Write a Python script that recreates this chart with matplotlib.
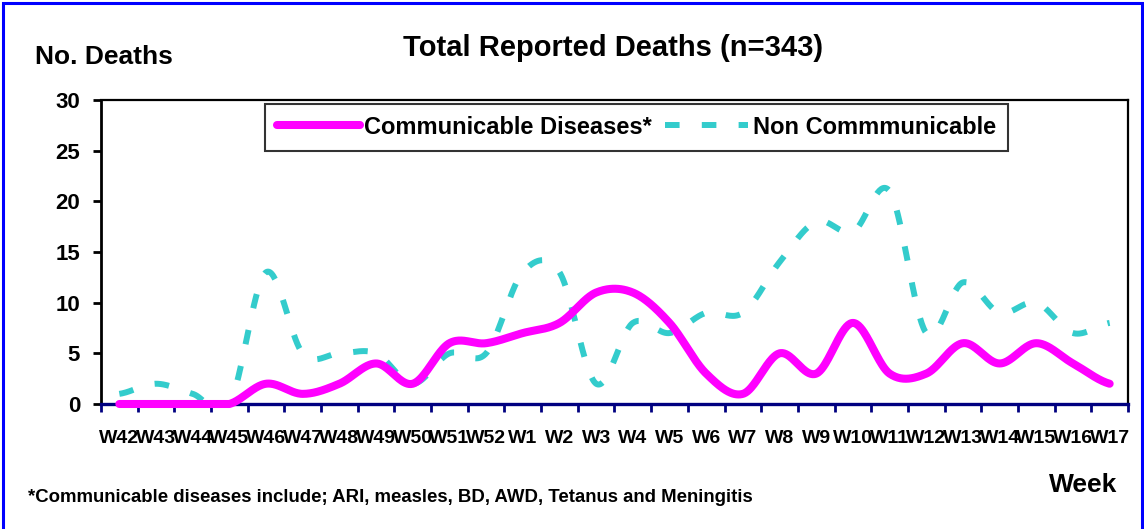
import matplotlib
matplotlib.use("Agg")
import matplotlib.pyplot as plt
from matplotlib.patches import Rectangle
import numpy as np

# ---------- data ----------
weeks = ["W42", "W43", "W44", "W45", "W46", "W47", "W48", "W49", "W50", "W51", "W52",
         "W1", "W2", "W3", "W4", "W5", "W6", "W7", "W8", "W9", "W10",
         "W11", "W12", "W13", "W14", "W15", "W16", "W17"]
communicable = [0, 0, 0, 0, 2, 1, 2, 4, 2, 6, 6,
                7, 8, 11, 11, 8, 3, 1, 5, 3, 8,
                3, 3, 6, 4, 6, 4, 2]
non_communicable = [1, 2, 1, 0, 13, 5, 5, 5, 2, 5, 5,
                    13, 13, 2, 8, 7, 9, 9, 14, 18, 17,
                    21, 7, 12, 9, 10, 7, 8]

PINK = "#FF00FF"
CYAN = "#33CCCC"
NAVY = "#000080"
FONT = "Liberation Sans"

plt.rcParams["font.family"] = [FONT, "DejaVu Sans"]
plt.rcParams["font.weight"] = "bold"
plt.rcParams["lines.scale_dashes"] = False


# ---------- smoothed line like the spreadsheet "smoothed line" option ----------
def smooth(values, n=40):
    p = np.asarray(values, dtype=float)
    ext = np.concatenate([[p[0]], p, [p[-1]]])
    xs, ys = [], []
    t = np.linspace(0, 1, n, endpoint=False)
    h00 = 2 * t**3 - 3 * t**2 + 1
    h10 = t**3 - 2 * t**2 + t
    h01 = -2 * t**3 + 3 * t**2
    h11 = t**3 - t**2
    for i in range(len(p) - 1):
        p0, p1, p2, p3 = ext[i:i + 4]
        m1 = (p2 - p0) / 2
        m2 = (p3 - p1) / 2
        ys.append(h00 * p1 + h10 * m1 + h01 * p2 + h11 * m2)
        xs.append(i + t)
    xs.append([len(p) - 1])
    ys.append([p[-1]])
    return np.concatenate(xs), np.concatenate(ys)


fig = plt.figure(figsize=(11.44, 5.29), dpi=100)
ax = fig.add_axes([101 / 1144, 125 / 529, 1027 / 1144, 304 / 529])

x = np.arange(len(weeks))
xc, yc = smooth(communicable)
xn, yn = smooth(non_communicable)

ax.plot(xn, yn, color=CYAN, lw=4.3, linestyle=(0, (10.5, 16)),
        dash_capstyle="butt", clip_on=True, zorder=4,
        label="Non Commmunicable")
ax.plot(xc, np.maximum(yc, 0), color=PINK, lw=5.8, solid_capstyle="round",
        clip_on=False, zorder=5, label="Communicable Diseases*")

ax.set_xlim(-0.5, len(weeks) - 0.5)
ax.set_ylim(0, 30)
ax.set_yticks(np.arange(0, 31, 5))

# ticks between categories, labels at the centres
ax.set_xticks(np.arange(-0.5, len(weeks), 1.0))
ax.set_xticklabels([])
ax.set_xticks(x, minor=True)
ax.set_xticklabels(weeks, minor=True)
ax.tick_params(axis="x", which="major", direction="out", length=6,
               width=2, color=NAVY)
ax.tick_params(axis="x", which="minor", length=0, pad=19, labelsize=14)
ax.tick_params(axis="y", direction="out", length=6, width=2,
               color="black", pad=9, labelsize=16)
for lab in ax.get_xticklabels(minor=True) + ax.get_yticklabels():
    lab.set_fontweight("bold")

for side in ["left", "top", "right"]:
    ax.spines[side].set_color("black")
    ax.spines[side].set_linewidth(1.6)
ax.spines["left"].set_linewidth(2)
ax.spines["bottom"].set_color(NAVY)
ax.spines["bottom"].set_linewidth(2.4)

handles, labels = ax.get_legend_handles_labels()
leg = ax.legend(handles[::-1], labels[::-1], loc="upper left",
                bbox_to_anchor=(0.16, 0.987), ncol=2, frameon=True,
                fancybox=False, borderpad=0.5, handlelength=3.5,
                handletextpad=0.2, columnspacing=0.55, borderaxespad=0,
                prop={"family": FONT, "weight": "bold", "size": 17})
leg.get_frame().set_edgecolor("black")
leg.get_frame().set_linewidth(1.5)

fig.text(35 / 1144, 1 - 57 / 529, "No. Deaths", fontsize=19,
         fontweight="bold", ha="left", va="center")
fig.text(613 / 1144, 1 - 48 / 529, "Total Reported Deaths (n=343)",
         fontsize=21, fontweight="bold", ha="center", va="center")
fig.text(1083 / 1144, 1 - 485 / 529, "Week", fontsize=19,
         fontweight="bold", ha="center", va="center")
fig.text(28 / 1144, 1 - 497 / 529,
         "*Communicable diseases include; ARI, measles, BD, AWD, Tetanus and Meningitis",
         fontsize=13.4, fontweight="bold", ha="left", va="center")

# blue outer frame
fig.patches.append(Rectangle((2.5 / 1144, -0.02), 1 - 5 / 1144, 1.02 - 2.5 / 529,
                             transform=fig.transFigure, fill=False,
                             edgecolor="#0000FF", lw=2.2))

fig.savefig("out.png", dpi=100)
